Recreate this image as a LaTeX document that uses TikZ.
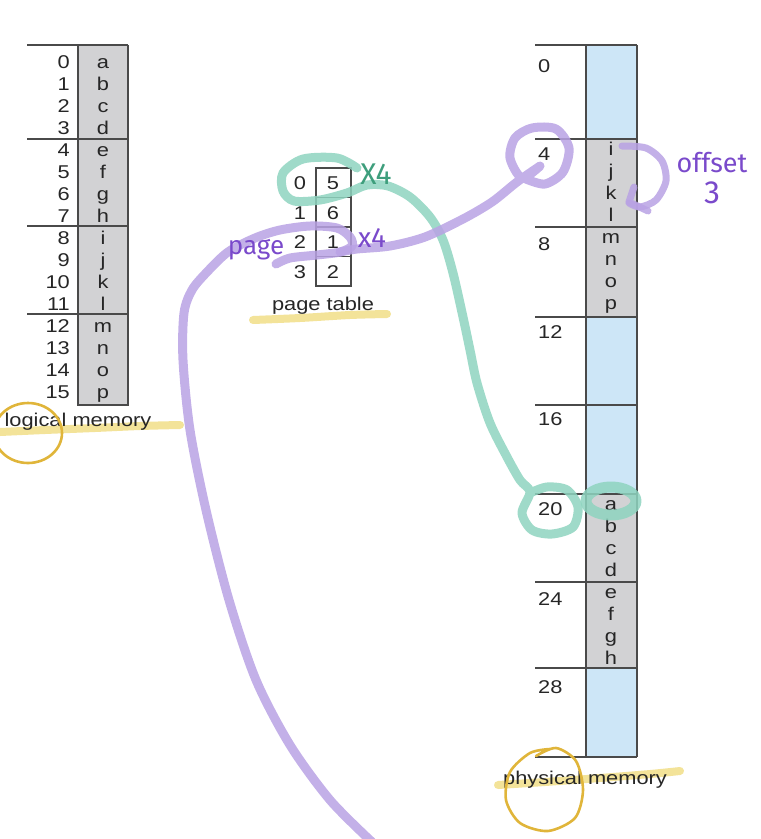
\documentclass[tikz,border=0pt]{standalone}
\usepackage{fontspec}
\usetikzlibrary{positioning}
\newfontfamily\figfont{Liberation Sans}[FakeStretch=1.18]
\newfontfamily\handfont{Fira Sans}
\definecolor{framegray}{HTML}{D2D2D4}
\definecolor{frameblue}{HTML}{CDE6F7}
\definecolor{rulegray}{HTML}{4A4A4A}
\definecolor{inkgray}{HTML}{262626}
\definecolor{penpurple}{HTML}{B9A2E4}
\definecolor{penpurpledark}{HTML}{7A4ACB}
\definecolor{pengreen}{HTML}{8ED4BF}
\definecolor{pengreendark}{HTML}{3E9E7C}
\definecolor{hiliter}{HTML}{F0DC80}
\definecolor{penyellow}{HTML}{E0B53A}
\tikzset{
  cell/.style={font=\figfont\fontsize{18.5}{20}\selectfont, text=inkgray, inner sep=0pt},
  caption/.style={cell},
  rule/.style={draw=rulegray, line width=1.1pt},
  purplepen/.style={draw=penpurple, line width=9pt, line cap=round, line join=round, opacity=0.85},
  greenpen/.style={draw=pengreen, line width=9pt, line cap=round, line join=round, opacity=0.85},
  highlight/.style={draw=hiliter, line width=8pt, line cap=round, opacity=0.8},
  yellowpen/.style={draw=penyellow, line width=2.6pt, line cap=round},
  handnote/.style={font=\handfont\fontsize{#1}{#1}\selectfont, inner sep=0pt},
}

\begin{document}
\begin{tikzpicture}[x=1pt, y=-1pt]
\useasboundingbox (0,0) rectangle (761,839);

% highlighter marks under the captions
\draw[highlight] plot[smooth] coordinates {(0,432) (45,430) (95,428) (140,426) (180,425)};
\draw[highlight] plot[smooth] coordinates {(253,320) (300,318) (350,315) (387,314)};
\draw[highlight] plot[smooth] coordinates {(498,785) (545,782) (600,778) (650,774) (680,771)};

% logical memory
\fill[framegray] (78,45) rectangle (128,405);
\foreach \y in {45,139,226,314}
  \draw[rule] (27,\y) -- (128,\y);
\draw[rule] (78,45) -- (78,405) -- (128,405) -- (128,45);
\foreach \l [count=\i from 0] in {a,b,c,d,e,f,g,h,i,j,k,l,m,n,o,p} {
  \node[cell, anchor=base east] (la\i) at (70,{68+22*\i}) {\i};
  \node[cell, anchor=base] (lc\l) at (103,{68+22*\i}) {\l};
}
\node[caption, anchor=base] (logical) at (78,426) {logical memory};

% page table
\draw[rule] (316,168) rectangle (351,286);
\foreach \y in {197.5,227,256.5}
  \draw[rule] (316,\y) -- (351,\y);
\foreach \f [count=\i from 0] in {5,6,1,2} {
  \node[cell, anchor=base] (pt\i) at (300,{189.5+29.5*\i}) {\i};
  \node[cell, anchor=base] (pv\i) at (333,{189.5+29.5*\i}) {\f};
}
\node[caption, anchor=base] (pagetable) at (323,310) {page table};

% physical memory
\foreach \top/\bot/\shade in {45/139/frameblue, 139/227/framegray, 227/317/framegray,
    317/405/frameblue, 405/494/frameblue, 494/582/framegray, 582/668/framegray, 668/757/frameblue}
  \fill[\shade] (586,\top) rectangle (637,\bot);
\foreach \y in {45,139,227,317,405,494,582,668,757}
  \draw[rule] (535,\y) -- (637,\y);
\draw[rule] (586,45) -- (586,757);
\draw[rule] (637,45) -- (637,757);
\foreach \n/\y in {0/72, 4/160, 8/250, 12/338, 16/425, 20/515, 24/605, 28/693}
  \node[cell, anchor=base west] (pa\n) at (538,\y) {\n};
\foreach \top/\letters in {139/{i,j,k,l}, 227/{m,n,o,p}, 494/{a,b,c,d}, 582/{e,f,g,h}}
  \foreach \l [count=\j from 0] in \letters
    \node[cell, anchor=base] (pm\l) at (611,{\top+16+22*\j}) {\l};
\node[caption, anchor=base] (physical) at (585,784) {physical memory};

% pen circles
\draw[yellowpen] (28,433) ellipse[x radius=34, y radius=30];
\draw[yellowpen] plot[smooth] coordinates {(536,756) (556,748) (576,761) (583,790) (575,818)
  (548,831) (520,823) (506,800) (510,772) (530,753) (550,749)};

% green: frame of page 0
\draw[greenpen] plot[smooth] coordinates {(357,168) (337,158) (303,159) (283,173) (283,191)
  (294,201) (320,200) (347,193) (367,185) (388,186) (410,197) (430,217) (443,240) (453,273)
  (463,317) (470,350) (477,383) (490,423) (507,457) (520,480) (530,492) (522,513) (532,530)
  (552,534) (573,527) (578,507) (567,490) (547,487) (530,493)};
\draw[greenpen, line width=11pt] (611,501) ellipse[x radius=25, y radius=14];
\node[handnote=30, text=pengreendark] (greennote) at (376,174) {X4};

% purple: page 2 to frame 1, offset 3
\draw[purplepen] plot[smooth] coordinates {(372,842) (330,800) (290,745) (256,680) (229,600)
  (206,510) (190,430) (183,360) (184,313) (192,290) (207,272) (228,252) (255,238) (280,230)
  (310,226) (337,228) (350,237) (352,246) (340,252) (317,255) (290,258) (276,264)};
\draw[purplepen] plot[smooth] coordinates {(340,252) (357,249) (390,246) (425,237) (463,219)
  (492,202) (517,182) (540,166) (522,178) (510,158) (515,138) (532,128) (556,129) (569,148)
  (563,172) (545,184) (526,179)};
\draw[purplepen, line width=7pt] plot[smooth] coordinates {(622,146) (646,148) (662,161)
  (666,181) (656,200) (640,207) (629,203)};
\draw[purplepen, line width=7pt] (634,187) -- (629,202) -- (648,211);
\node[handnote=26, text=penpurpledark] (pagenote) at (256,250) {page};
\node[handnote=28, text=penpurpledark] (purplenote) at (372,238) {x4};
\node[handnote=27, text=penpurpledark] (offsetnote) at (712,163) {offset};
\node[handnote=32, text=penpurpledark, below=8pt of offsetnote] (offsetval) {3};
\end{tikzpicture}
\end{document}
